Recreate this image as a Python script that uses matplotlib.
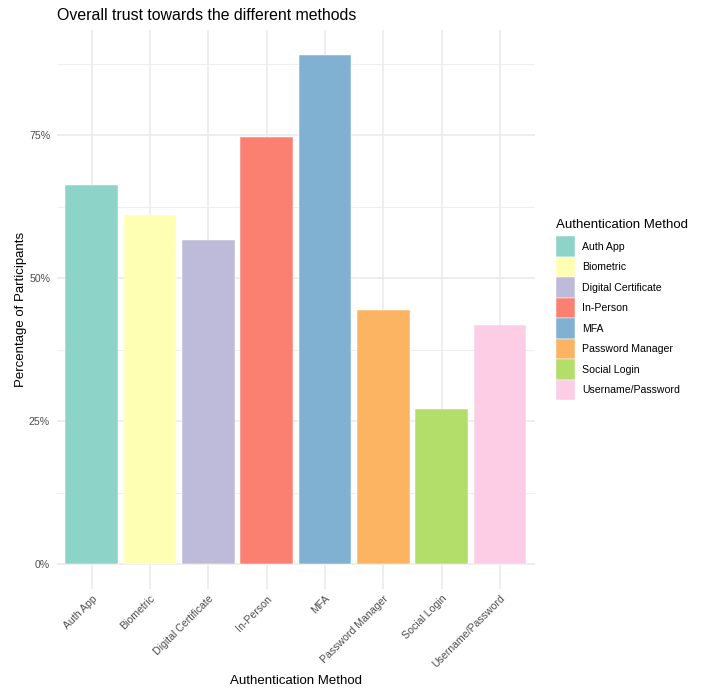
import matplotlib
matplotlib.use("Agg")
import matplotlib.pyplot as plt
from matplotlib.patches import Patch
from matplotlib.ticker import FixedLocator, FuncFormatter

plt.rcParams['font.family'] = ['Liberation Sans', 'DejaVu Sans']

methods = ["Auth App", "Biometric", "Digital Certificate", "In-Person", "MFA",
           "Password Manager", "Social Login", "Username/Password"]
trust_pct = [66.3, 61.1, 56.7, 74.7, 89.0, 44.4, 27.1, 41.8]
colors = ["#8DD3C7", "#FFFFB3", "#BEBADA", "#FB8072", "#80B1D3",
          "#FDB462", "#B3DE69", "#FCCDE5"]

DPI = 86.4
W, H = 705, 692
GRID = "#EBEBEB"
TXT = "#4D4D4D"

fig = plt.figure(figsize=(W / DPI, H / DPI), dpi=DPI)
# panel placement in pixels (left, top, right, bottom)
pl, pt, pr, pb = 56.7, 30, 535, 589.4
ax = fig.add_axes([pl / W, 1 - pb / H, (pr - pl) / W, (pb - pt) / H])

x = list(range(1, len(methods) + 1))
ax.bar(x, trust_pct, width=0.9, color=colors, edgecolor="white", linewidth=0.4, zorder=3)

ymax = max(trust_pct)
ax.set_ylim(-0.05 * ymax, 1.05 * ymax)
ax.set_xlim(0.4, len(methods) + 0.6)

ax.yaxis.set_major_locator(FixedLocator([0, 25, 50, 75]))
ax.yaxis.set_minor_locator(FixedLocator([12.5, 37.5, 62.5, 87.5]))
ax.yaxis.set_major_formatter(FuncFormatter(lambda v, p: f"{v:.0f}%"))
ax.set_xticks(x)
ax.set_xticklabels(methods, rotation=45, ha="right", rotation_mode="anchor")

ax.grid(True, which="major", color=GRID, linewidth=1.4, zorder=0)
ax.grid(True, which="minor", axis="y", color=GRID, linewidth=0.7, zorder=0)
for s in ax.spines.values():
    s.set_visible(False)
ax.tick_params(which="both", length=0)
ax.tick_params(axis="y", labelsize=8.8, labelcolor=TXT, pad=5.5)
ax.tick_params(axis="x", labelsize=8.8, labelcolor=TXT, pad=3.5)

ax.set_xlabel("Authentication Method", fontsize=11, labelpad=4)
ax.set_ylabel("Percentage of Participants", fontsize=11, labelpad=2)
fig.text(pl / W, 1 - 15 / H, "Overall trust towards the different methods",
         fontsize=13.2, ha="left", va="center")

# legend keys: full patch height = fontsize * (0.65 * hh + 0.245)
handles = [Patch(facecolor=c, edgecolor="white", linewidth=0.4) for c in colors]
leg = fig.legend(handles, methods, loc="upper left",
                 bbox_to_anchor=(555.5 / W, 1 - 219 / H),
                 frameon=False, fontsize=8.8, title="Authentication Method",
                 title_fontsize=11, alignment="left", borderpad=0,
                 labelspacing=0, handlelength=1.83, handleheight=2.608,
                 handletextpad=0.7, borderaxespad=0)
leg._legend_box.sep = 4.5  # gap between legend title and keys

fig.savefig("out.png", dpi=DPI, facecolor="white")
